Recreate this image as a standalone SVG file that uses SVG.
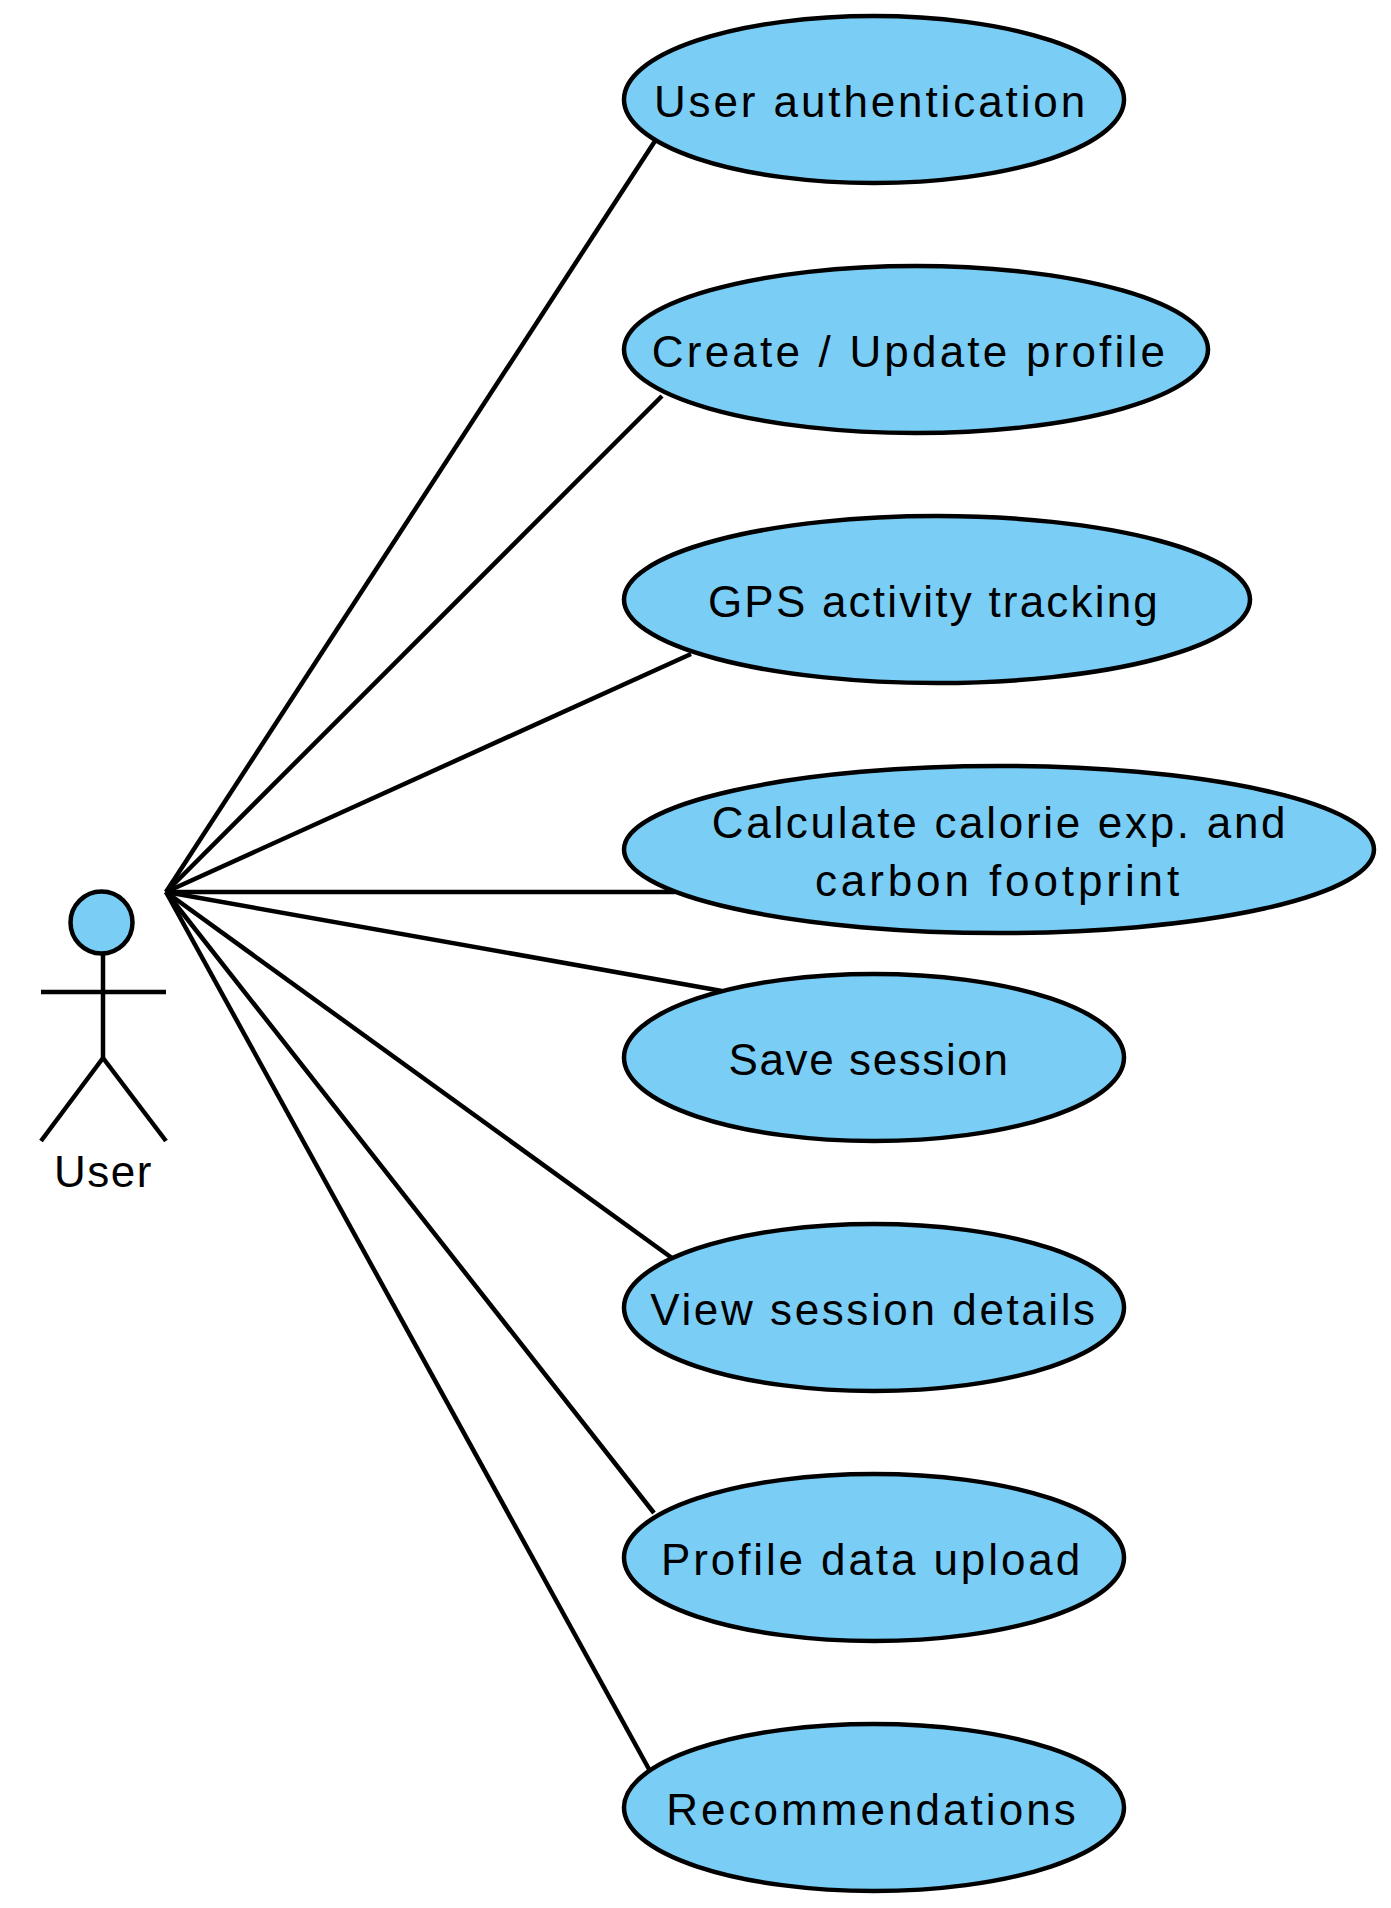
<svg xmlns="http://www.w3.org/2000/svg" width="1391" height="1908" viewBox="0 0 1391 1908">
<style>
.u{fill:#7acef6;stroke:#000;stroke-width:4.5}
.c line,.a line{stroke:#000;stroke-width:4.5;fill:none;stroke-linecap:butt}
text{font-family:"Liberation Sans",Arial,sans-serif;font-size:44px;fill:#000;text-anchor:middle}
</style>
<rect width="1391" height="1908" fill="#fff"/>
<g id="connectors" class="c">
<line x1="166" y1="892" x2="655" y2="141"/>
<line x1="166" y1="892" x2="662" y2="396"/>
<line x1="166" y1="892" x2="691" y2="654"/>
<line x1="166" y1="892" x2="675" y2="892"/>
<line x1="166" y1="892" x2="722" y2="991"/>
<line x1="166" y1="892" x2="672" y2="1258"/>
<line x1="166" y1="892" x2="654" y2="1513"/>
<line x1="166" y1="892" x2="650" y2="1771"/>
</g>
<g id="actor-user" class="a">
<circle class="u" cx="101.500" cy="922.500" r="31"/>
<line x1="103" y1="955" x2="103" y2="1058"/>
<line x1="41" y1="992" x2="166" y2="992"/>
<line x1="103" y1="1058" x2="41" y2="1141"/>
<line x1="103" y1="1058" x2="166" y2="1141"/>
<text x="103.500" y="1187" letter-spacing="1.5">User</text>
</g>
<g id="uc-auth"><ellipse class="u" cx="874" cy="99.500" rx="250" ry="83.500"/><text letter-spacing="2.9" x="871" y="116.500">User authentication</text></g>
<g id="uc-profile"><ellipse class="u" cx="916" cy="349.500" rx="292" ry="83.500"/><text letter-spacing="3.2" x="910" y="366.500">Create / Update profile</text></g>
<g id="uc-gps"><ellipse class="u" cx="937" cy="599.500" rx="313" ry="83.500"/><text letter-spacing="2.2" x="934" y="616.500">GPS activity tracking</text></g>
<g id="uc-calc"><ellipse class="u" cx="999" cy="849.500" rx="375" ry="83.500"/><text letter-spacing="2.7" x="1000" y="837.500">Calculate calorie exp. and</text><text letter-spacing="3.9" x="999" y="896">carbon footprint</text></g>
<g id="uc-save"><ellipse class="u" cx="874" cy="1057.500" rx="250" ry="83.500"/><text letter-spacing="1.6" x="869" y="1074.500">Save session</text></g>
<g id="uc-view"><ellipse class="u" cx="874" cy="1307.500" rx="250" ry="83.500"/><text letter-spacing="2.6" x="874" y="1324.500">View session details</text></g>
<g id="uc-upload"><ellipse class="u" cx="874" cy="1557.500" rx="250" ry="83.500"/><text letter-spacing="2.9" x="872" y="1574.500">Profile data upload</text></g>
<g id="uc-recs"><ellipse class="u" cx="874" cy="1807.500" rx="250" ry="83.500"/><text letter-spacing="3.05" x="872.500" y="1824.500">Recommendations</text></g>
</svg>
